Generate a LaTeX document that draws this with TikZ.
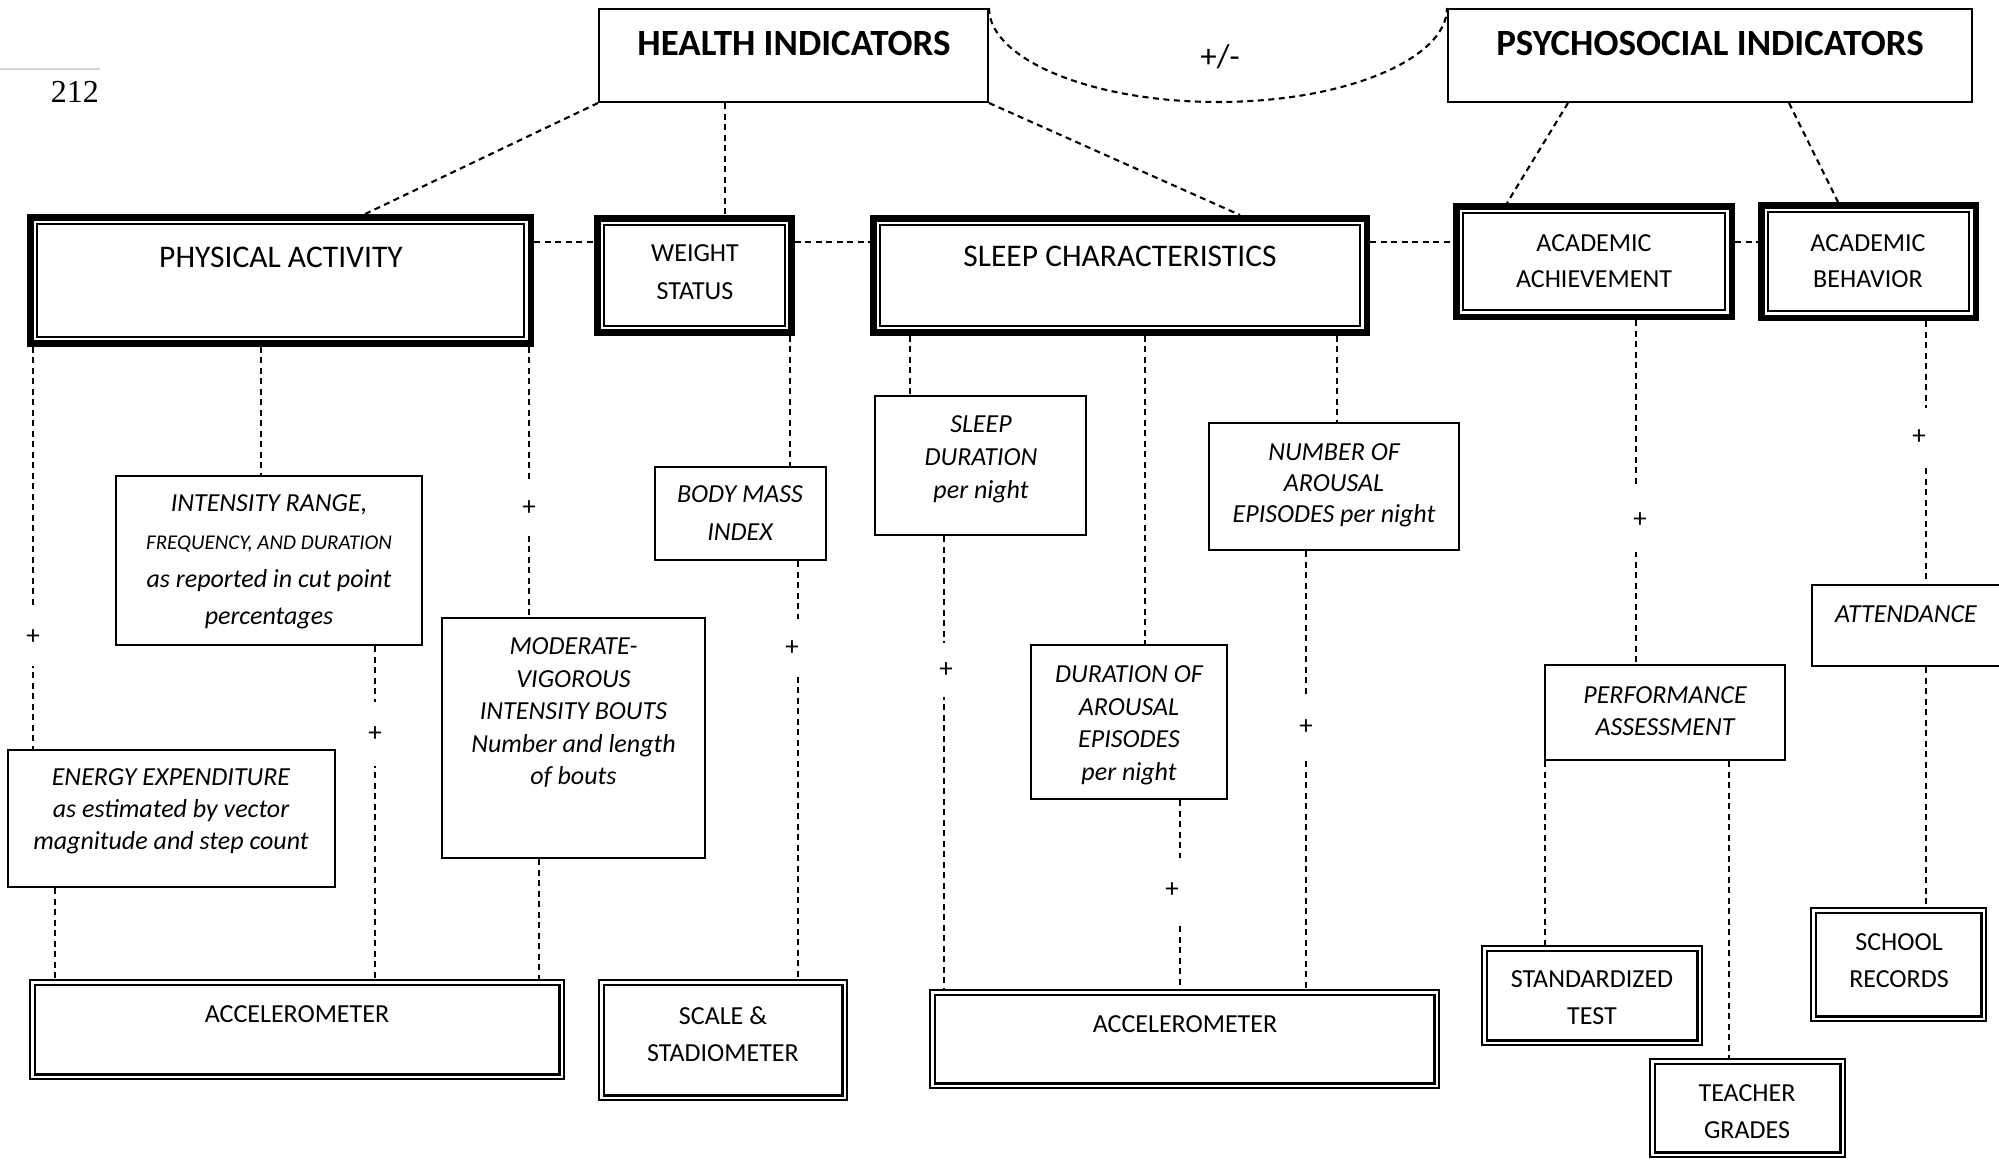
\documentclass[tikz,border=0pt]{standalone}
\usepackage{fontspec}
\setmainfont{Carlito}
\newfontfamily\pgnumfont{Liberation Serif}
\begin{document}
\begin{tikzpicture}[x=1pt,y=-1pt,
  thinbox/.style={draw, line width=2pt, rectangle, inner sep=0pt},
  thickbox/.style={draw, line width=6.5pt, rectangle, inner sep=0pt},
  dblbox/.style={draw, line width=2pt, rectangle, inner sep=0pt},
  dl/.style={dash pattern=on 6pt off 4.5pt, line width=2.1pt},
  txt/.style={inner sep=0pt, align=center},
  bigtxt/.style={txt, font=\fontsize{37}{44}\selectfont\bfseries},
  midtxt/.style={txt, font=\fontsize{31.5}{38}\selectfont},
  smtxt/.style={txt, font=\fontsize{26}{#1}\selectfont},
  smtxt/.default=37,
  ittxt/.style={txt, font=\fontsize{26}{#1}\selectfont\itshape},
  ittxt/.default=37,
  plus/.style={fill=white, inner sep=0pt, minimum width=26pt, minimum height=#1, font=\fontsize{27}{30}\selectfont},
  plus/.default=58pt,
]
\useasboundingbox (0,0) rectangle (1999,1159);
\clip (0,0) rectangle (1999,1159);

% page decoration
\draw[color=black!17, line width=1.8pt] (0,69) -- (100,69);
\node[anchor=base east, inner sep=0pt, font=\pgnumfont\fontsize{32}{37}\selectfont] (pg) at (99,102) {212};

% top level
\node[thinbox, minimum width=389pt, minimum height=93pt] (hi) at (793.5,55.5) {};
\node[bigtxt] (hit) at (794,43.5) {HEALTH INDICATORS};
\node[thinbox, minimum width=524pt, minimum height=93pt] (psy) at (1710,55.5) {};
\node[bigtxt] (psyt) at (1710,43.5) {PSYCHOSOCIAL INDICATORS};
\node[txt, font=\fontsize{33}{38}\selectfont] (pm) at (1220,57) {+/-};

% thick boxes
\node[thickbox, minimum width=500.5pt, minimum height=126.4pt] (pa) at (280.5,280.5) {};
\node[midtxt] (pat) at (281,257) {PHYSICAL ACTIVITY};
\node[thickbox, minimum width=194.4pt, minimum height=114.4pt] (ws) at (694.5,275.5) {};
\node[smtxt=38, anchor=north] (wst) at (695,244.1) {WEIGHT\\STATUS};
\node[thickbox, minimum width=493.5pt, minimum height=114.4pt] (sc) at (1120,275.5) {};
\node[midtxt] (sct) at (1120,256.5) {SLEEP CHARACTERISTICS};
\node[thickbox, minimum width=275.5pt, minimum height=110.5pt] (aa) at (1594,261.5) {};
\node[smtxt=36.5, anchor=north] (aat) at (1594,234.1) {ACADEMIC\\ACHIEVEMENT};
\node[thickbox, minimum width=214.5pt, minimum height=112.5pt] (ab) at (1868.5,261.5) {};
\node[smtxt=36.5, anchor=north] (abt) at (1868,234.1) {ACADEMIC\\BEHAVIOR};
\foreach \n in {pa,ws,sc,aa,ab}
  \draw[line width=2pt] ([shift={(10,10)}]\n.north west) rectangle ([shift={(-10,-10)}]\n.south east);

% measures
\node[thinbox, minimum width=306pt, minimum height=169pt] (int) at (269,560.5) {};
\node[ittxt=37.7, anchor=north] (intt) at (269,494.6) {INTENSITY RANGE,\\{\fontsize{21}{37.7}\selectfont FREQUENCY, AND DURATION}\\as reported in cut point\\percentages};
\node[thinbox, minimum width=263pt, minimum height=240pt] (mod) at (573.5,738) {};
\node[ittxt=32.5, anchor=north] (modt) at (573.5,637.6) {MODERATE-\\VIGOROUS\\INTENSITY BOUTS\\Number and length\\of bouts};
\node[thinbox, minimum width=327pt, minimum height=137pt] (en) at (171.5,818.5) {};
\node[ittxt=32, anchor=north] (ent) at (171,768.6) {ENERGY EXPENDITURE\\as estimated by vector\\magnitude and step count};
\node[thinbox, minimum width=171pt, minimum height=93pt] (bmi) at (740.5,513.5) {};
\node[ittxt=38, anchor=north] (bmit) at (740,485.8) {BODY MASS\\INDEX};
\node[thinbox, minimum width=211pt, minimum height=139pt] (sd) at (980.5,465.5) {};
\node[ittxt=33, anchor=north] (sdt) at (981,415) {SLEEP\\DURATION\\per night};
\node[thinbox, minimum width=196pt, minimum height=154pt] (da) at (1129,722) {};
\node[ittxt=32.5, anchor=north] (dat) at (1129,665.6) {DURATION OF\\AROUSAL\\EPISODES\\per night};
\node[thinbox, minimum width=250pt, minimum height=127pt] (num) at (1334,486.5) {};
\node[ittxt=31, anchor=north] (numt) at (1334,443.6) {NUMBER OF\\AROUSAL\\EPISODES per night};
\node[thinbox, minimum width=240pt, minimum height=95pt] (perf) at (1665,712.5) {};
\node[ittxt=32, anchor=north] (perft) at (1665,686.6) {PERFORMANCE\\ASSESSMENT};
\node[thinbox, minimum width=220pt, minimum height=81pt] (att) at (1922,625.5) {};
\node[ittxt] (attt) at (1906,614) {ATTENDANCE};

% instruments
\node[dblbox, minimum width=534pt, minimum height=99pt] (acc1) at (297,1029.5) {};
\node[smtxt] (acc1t) at (297,1014) {ACCELEROMETER};
\node[dblbox, minimum width=248pt, minimum height=120pt] (scl) at (723,1040) {};
\node[smtxt=37, anchor=north] (sclt) at (723,1006.6) {SCALE \&\\STADIOMETER};
\node[dblbox, minimum width=509pt, minimum height=98pt] (acc2) at (1184.5,1039) {};
\node[smtxt] (acc2t) at (1185,1024) {ACCELEROMETER};
\node[dblbox, minimum width=220pt, minimum height=99pt] (std) at (1592,995.5) {};
\node[smtxt=37, anchor=north] (stdt) at (1592,970.6) {STANDARDIZED\\TEST};
\node[dblbox, minimum width=195pt, minimum height=98pt] (tch) at (1747.5,1108) {};
\node[smtxt=37, anchor=north] (tcht) at (1747,1084.6) {TEACHER\\GRADES};
\node[dblbox, minimum width=175pt, minimum height=113pt] (sch) at (1898.5,964.5) {};
\node[smtxt=37, anchor=north] (scht) at (1899,933.6) {SCHOOL\\RECORDS};
\foreach \n in {acc1,scl,acc2,std,tch,sch}
  \draw[line width=2.6pt] ([shift={(5.8,5.8)}]\n.north west) rectangle ([shift={(-5.8,-5.8)}]\n.south east);

% connectors: top level
\coordinate (arcb) at (1218,102);
\draw[dl] (hi.north east) .. controls +(0,51) and +(-127,0) .. (arcb) .. controls +(127,0) and +(0,51) .. (psy.north west);
\coordinate (xa) at (365,0);
\coordinate (xb) at (725,0);
\coordinate (xc) at (1240,0);
\draw[dl] (hi.south west) -- (pa.north -| xa);
\draw[dl] (hi.south -| xb) -- (ws.north -| xb);
\draw[dl] (hi.south east) -- (sc.north -| xc);
\coordinate (xd1) at (1568,0);
\coordinate (xd2) at (1507,0);
\coordinate (xe1) at (1789,0);
\coordinate (xe2) at (1838,0);
\draw[dl] (psy.south -| xd1) -- (aa.north -| xd2);
\draw[dl] (psy.south -| xe1) -- (ab.north -| xe2);

% horizontal links
\coordinate (yh) at (0,242);
\draw[dl] (pa.east |- yh) -- (ws.west |- yh);
\draw[dl] (ws.east |- yh) -- (sc.west |- yh);
\draw[dl] (sc.east |- yh) -- (aa.west |- yh);
\draw[dl] (aa.east |- yh) -- (ab.west |- yh);

% physical activity branch
\coordinate (x1) at (33,0);
\coordinate (x2) at (261,0);
\coordinate (x3) at (529,0);
\coordinate (x4) at (375,0);
\coordinate (x5) at (539,0);
\coordinate (x6) at (55,0);
\draw[dl] (pa.south -| x1) -- (en.north -| x1);
\draw[dl] (pa.south -| x2) -- (int.north -| x2);
\draw[dl] (pa.south -| x3) -- (mod.north -| x3);
\draw[dl] (int.south -| x4) -- (acc1.north -| x4);
\draw[dl] (mod.south -| x5) -- (acc1.north -| x5);
\draw[dl] (en.south -| x6) -- (acc1.north -| x6);
\node[plus] (p1) at (33,637) {+};
\node[plus=52pt] (p3) at (529,508) {+};
\node[plus=64pt] (p4) at (375,734) {+};

% weight branch
\coordinate (x7) at (790,0);
\coordinate (x8) at (798,0);
\draw[dl] (ws.south -| x7) -- (bmi.north -| x7);
\draw[dl] (bmi.south -| x8) -- (scl.north -| x8);
\node[plus] (p8) at (792,648) {+};

% sleep branch
\coordinate (x9) at (910,0);
\coordinate (x10) at (1145,0);
\coordinate (x11) at (1337,0);
\coordinate (x12) at (944,0);
\coordinate (x13) at (1180,0);
\coordinate (x14) at (1306,0);
\draw[dl] (sc.south -| x9) -- (sd.north -| x9);
\draw[dl] (sc.south -| x10) -- (da.north -| x10);
\draw[dl] (sc.south -| x11) -- (num.north -| x11);
\draw[dl] (sd.south -| x12) -- (acc2.north -| x12);
\draw[dl] (da.south -| x13) -- (acc2.north -| x13);
\draw[dl] (num.south -| x14) -- (acc2.north -| x14);
\node[plus=54pt] (p12) at (946,670) {+};
\node[plus=64pt] (p13) at (1172,890) {+};
\node[plus=62pt] (p14) at (1306,727) {+};

% psychosocial branch
\coordinate (x15) at (1636,0);
\coordinate (x16) at (1545,0);
\coordinate (x17) at (1729,0);
\coordinate (x18) at (1926,0);
\draw[dl] (aa.south -| x15) -- (perf.north -| x15);
\draw[dl] (perf.south -| x16) -- (std.north -| x16);
\draw[dl] (perf.south -| x17) -- (tch.north -| x17);
\draw[dl] (ab.south -| x18) -- (att.north -| x18);
\draw[dl] (att.south -| x18) -- (sch.north -| x18);
\node[plus=64pt] (p15) at (1640,520) {+};
\node[plus] (p18) at (1919,437) {+};
\end{tikzpicture}
\end{document}
